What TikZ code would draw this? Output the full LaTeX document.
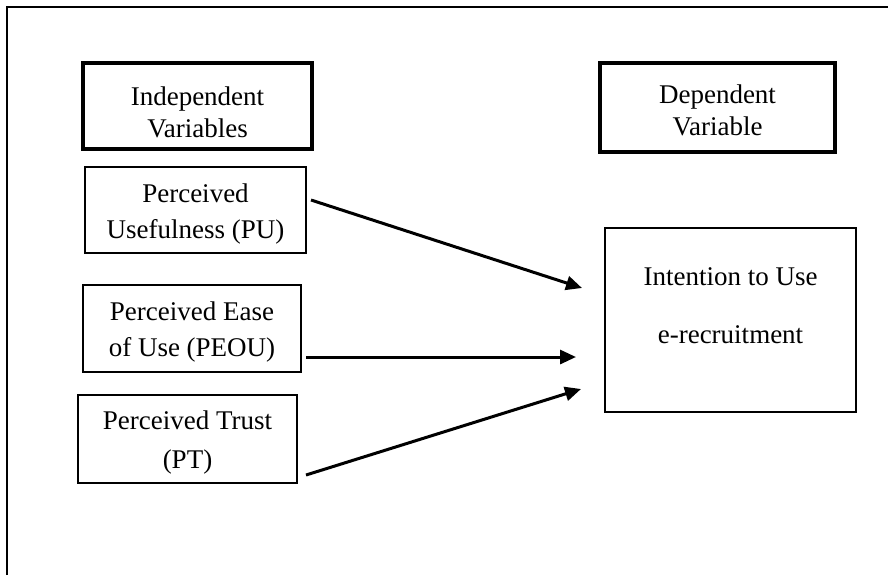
\documentclass[tikz,border=0pt]{standalone}
\usepackage{fontspec}
\setmainfont{Liberation Serif}
\usetikzlibrary{arrows.meta,calc}

\tikzset{
  headbox/.style={draw, line width=2.3pt, align=center, text depth=0pt, font=\fontsize{13.5}{16}\selectfont},
  varbox/.style={draw, line width=1pt, align=center, font=\fontsize{13.5}{16}\selectfont},
  arr/.style={->, line width=1.5pt},
}

\begin{document}
\begin{tikzpicture}[x=0.5pt, y=-0.5pt, >={Triangle[length=8pt,width=7pt]}]
\useasboundingbox (0,0) rectangle (888,575);
\draw[line width=1.2pt] (7,575) -- (7,7) -- (888,7);

\node[headbox, minimum width=114.5pt, minimum height=43pt, text height=31pt] (indep) at (197.5,106) {Independent\\Variables};
\node[headbox, minimum width=117.5pt, minimum height=44.5pt, text height=28pt] (dep) at (717.5,107.5) {Dependent\\Variable};

\node[varbox, minimum width=110.5pt, minimum height=43pt, text height=31pt, text depth=3pt] (pu) at (195.5,210) {Perceived\\[2pt]Usefulness (PU)};
\node[varbox, minimum width=109pt, minimum height=43.5pt, text height=31pt, text depth=3pt] (peou) at (192,328.5) {Perceived Ease\\[2pt]of Use (PEOU)};
\node[varbox, minimum width=109.5pt, minimum height=44pt, text height=32.5pt, text depth=3pt] (pt) at (187.5,439) {Perceived Trust\\[3.5pt](PT)};
\node[varbox, minimum width=125.5pt, minimum height=92pt, text depth=14.8pt] (itu) at (730.5,320) {Intention to Use\\[13pt]e-recruitment};

\coordinate (in1) at ($(itu.west)+(-22,-32)$);
\coordinate (in2) at ($(itu.west)+(-28,37)$);
\coordinate (in3) at ($(itu.west)+(-23,69)$);

\draw[arr] ($(pu.east)+(4,-10)$) -- (in1);
\draw[arr] ($(peou.east)+(4,28.5)$) -- (in2);
\draw[arr] ($(pt.east)+(8,36)$) -- (in3);
\end{tikzpicture}
\end{document}
